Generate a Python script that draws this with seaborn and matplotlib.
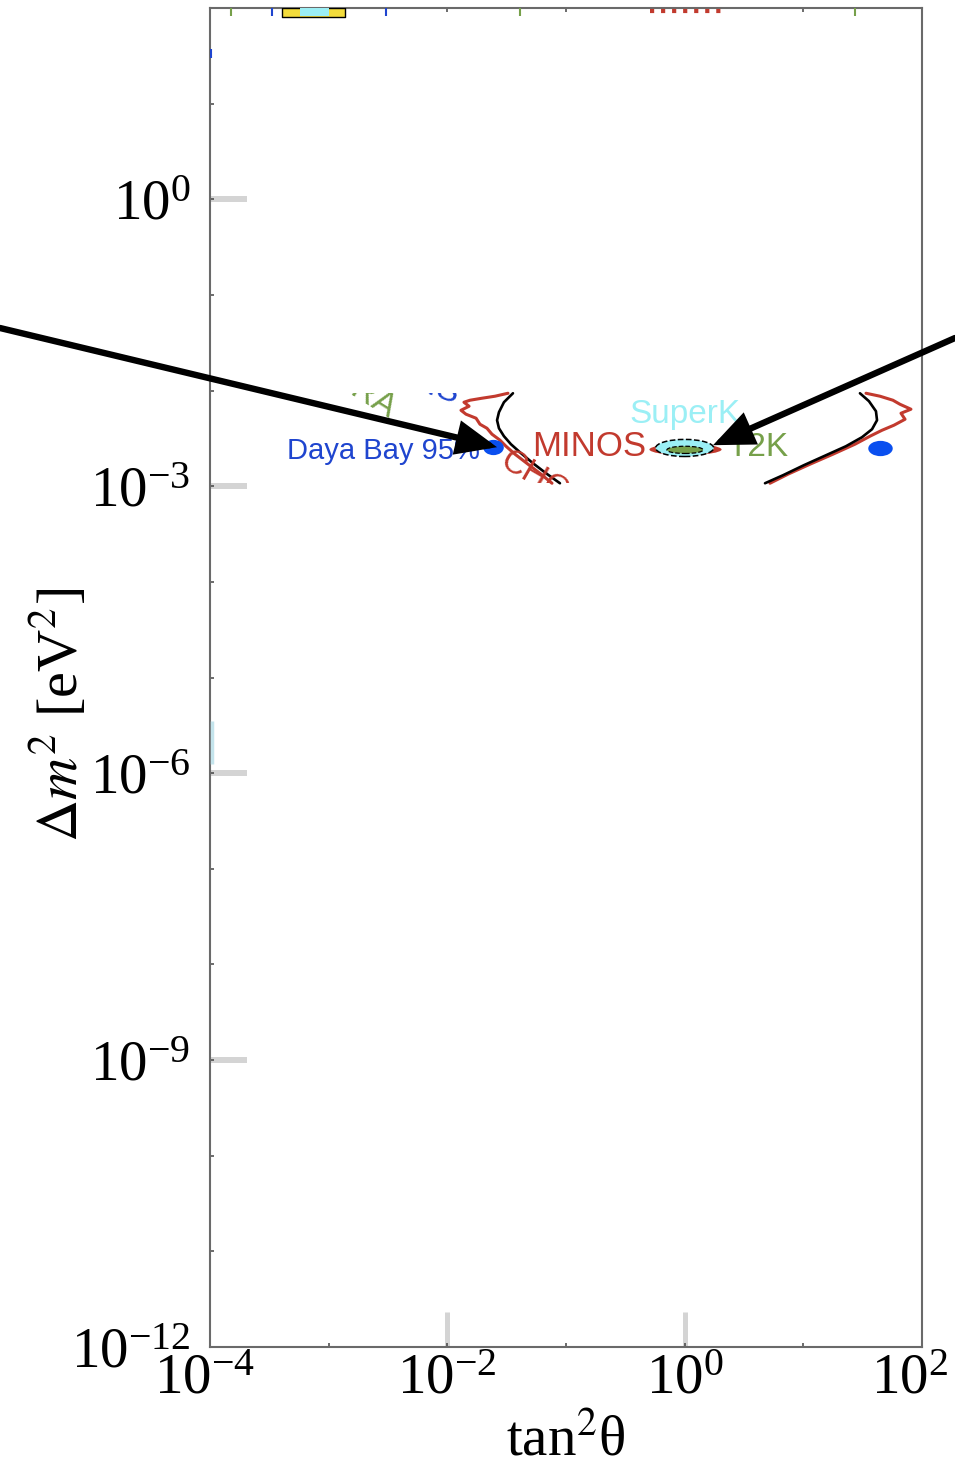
import numpy as np
import matplotlib
matplotlib.use("Agg")
import matplotlib.pyplot as plt
import seaborn as sns
from matplotlib.path import Path
from matplotlib.transforms import Affine2D, Bbox, TransformedBbox, ScaledTranslation
from matplotlib.ticker import FixedLocator, NullFormatter, LogFormatterSciNotation


# ============================================================
# DATA  (log10 of tan^2(theta) on x, log10 of dm^2 [eV^2] on y)
# ============================================================

x_lim = (-4, 2)
y_lim = (-12, 2)
x_major = [-4, -2, 0, 2]
y_major = [-12, -9, -6, -3, 0]
x_decades = list(range(-4, 3))
y_decades = list(range(-12, 3))

# strip of the zoomed-in plot that is pasted over the big one
strip_y = (-2.97, -2.03)

left_black_x = [-1.447, -1.523, -1.565, -1.581, -1.565, -1.523, -1.464, -1.379, -1.278, -1.169, -1.051]
left_black_y = [-2.028, -2.122, -2.226, -2.310, -2.394, -2.477, -2.561, -2.655, -2.760, -2.864, -2.969]

left_red_x = [-1.489, -1.598, -1.708, -1.809, -1.860, -1.817, -1.885, -1.843, -1.758, -1.725,
              -1.666, -1.624, -1.556, -1.506, -1.430, -1.320, -1.211, -1.118]
left_red_y = [-2.028, -2.059, -2.080, -2.101, -2.122, -2.164, -2.206, -2.247, -2.289, -2.352,
              -2.394, -2.456, -2.519, -2.582, -2.665, -2.770, -2.874, -2.969]

right_black_x = [1.477, 1.553, 1.612, 1.621, 1.579, 1.494, 1.359, 1.191, 1.005, 0.829, 0.677]
right_black_y = [-2.028, -2.111, -2.216, -2.310, -2.404, -2.488, -2.582, -2.676, -2.780, -2.885, -2.969]

right_red_x = [1.528, 1.646, 1.755, 1.814, 1.907, 1.823, 1.857, 1.764, 1.663, 1.562,
               1.435, 1.250, 1.056, 0.871, 0.719]
right_red_y = [-2.028, -2.059, -2.101, -2.143, -2.195, -2.237, -2.300, -2.362, -2.415, -2.477,
               -2.561, -2.665, -2.770, -2.874, -2.969]

# Daya Bay 95% blobs
dayabay_x = [-1.615, 1.646]
dayabay_y = [-2.592, -2.603]

# MINOS / SuperK / T2K allowed regions (centres)
minos_x, minos_y = 0.003, -2.613
superk_x, superk_y = 0.0, -2.600
t2k_x, t2k_y = 0.003, -2.620

# arrow tips
arrow_tip_x = [-1.581, 0.239]
arrow_tip_y = [-2.592, -2.571]

# bits of the big plot peeking in at the top edge
yellow_x = [-3.39, -2.86]
yellow_y = [1.91, 2.0]
cyan_box_x = [-3.24, -3.00]
red_dots_x = [-0.29, 0.34]
red_dots_y = 1.965
edge_marks_x = [-3.82, -3.48, -2.52, -1.39, 1.435]
left_strip_y = [-5.90, -5.45]

green = "#76a04a"
blue_txt = "#1f45cf"
blue_blob = "#0a4fef"
red = "#c23a2e"
cyan = "#9beff5"


def p10(v):
    return 10 ** np.asarray(v, dtype=float)


def ellipse_marker(aspect):
    return Path.unit_circle().transformed(Affine2D().scale(aspect, 1))


# ============================================================
# FIGURE
# ============================================================

sns.set_style("ticks")
plt.rcParams["font.family"] = ["Liberation Serif", "DejaVu Serif"]
plt.rcParams["mathtext.fontset"] = "stix"

fig = plt.figure(figsize=(9.55, 14.7), dpi=100)
ax = fig.add_axes([210 / 955, 1 - 1347 / 1470, 712 / 955, 1339 / 1470])
ax.set_xscale("log")
ax.set_yscale("log")
ax.set_xlim(p10(x_lim[0]), p10(x_lim[1]))
ax.set_ylim(p10(y_lim[0]), p10(y_lim[1]))

# ---- contours of the pasted strip
sns.lineplot(x=p10(left_red_x), y=p10(left_red_y), sort=False, estimator=None,
             color=red, lw=2.2, ax=ax)
sns.lineplot(x=p10(right_red_x), y=p10(right_red_y), sort=False, estimator=None,
             color=red, lw=2.2, ax=ax)
sns.lineplot(x=p10(left_black_x), y=p10(left_black_y), sort=False, estimator=None,
             color="black", lw=1.9, ax=ax)
sns.lineplot(x=p10(right_black_x), y=p10(right_black_y), sort=False, estimator=None,
             color="black", lw=1.9, ax=ax)

# ---- Daya Bay blobs
sns.scatterplot(x=p10(dayabay_x[:1]), y=p10(dayabay_y[:1]), marker=ellipse_marker(1.35),
                s=220, color=blue_blob, edgecolor=blue_blob, linewidth=0, ax=ax, zorder=4)
sns.scatterplot(x=p10(dayabay_x[1:]), y=p10(dayabay_y[1:]), marker=ellipse_marker(1.6),
                s=310, color=blue_blob, edgecolor=blue_blob, linewidth=0, ax=ax, zorder=4)

# ---- MINOS (red), SuperK (cyan, dashed) and T2K (green) regions
sns.scatterplot(x=[p10(minos_x)], y=[p10(minos_y)], marker=ellipse_marker(6.5),
                s=2700, color=red, edgecolor=red, linewidth=0, ax=ax, zorder=4)
sns.scatterplot(x=[p10(superk_x)], y=[p10(superk_y)], marker=ellipse_marker(3.4),
                s=1750, color=cyan, edgecolor="black", linewidth=1.1, linestyle="--",
                ax=ax, zorder=5)
sns.scatterplot(x=[p10(t2k_x)], y=[p10(t2k_y)], marker=ellipse_marker(5.0),
                s=680, color=green, edgecolor="black", linewidth=0.9, linestyle="--",
                ax=ax, zorder=6)

# ---- labels of the strip
strip_box = TransformedBbox(Bbox([[p10(x_lim[0]), p10(strip_y[0])],
                                  [p10(x_lim[1]), p10(strip_y[1])]]), ax.transData)
sans = "Liberation Sans"
ax.text(p10(-1.725), p10(-2.634), "Daya Bay 95%", color=blue_txt, fontsize=21,
        family=sans, ha="right", va="center")
ax.text(p10(-1.287), p10(-2.582), "MINOS", color=red, fontsize=25,
        family=sans, ha="left", va="center")
ax.text(p10(0.0), p10(-2.247), "SuperK", color=cyan, fontsize=24,
        family=sans, ha="center", va="center")
ax.text(p10(0.357), p10(-2.592), "T2K", color=green, fontsize=24,
        family=sans, ha="left", va="center")
for txt, x, y, rot, col, ha in [("CHOOZ", -1.531, -2.707, -30, red, "left"),
                                ("OPERA", -2.458, -2.226, -32, green, "right"),
                                ("CDHS", -1.910, -2.059, -20, blue_txt, "right")]:
    t = ax.text(p10(x), p10(y), txt, color=col, fontsize=24, family=sans,
                rotation=rot, rotation_mode="anchor", ha=ha, va="center")
    t.set_clip_box(strip_box)
    t.set_clip_on(True)

# ---- fragments of the big plot at the edges
ax.fill_between(p10(yellow_x), p10(yellow_y[0]), p10(yellow_y[1]),
                facecolor="#f3dc3c", edgecolor="black", lw=1.0, zorder=3)
ax.fill_between(p10(cyan_box_x), p10(yellow_y[0] + 0.01), p10(yellow_y[1]),
                facecolor=cyan, edgecolor="none", zorder=3)
ax.hlines(p10(red_dots_y), p10(red_dots_x[0]), p10(red_dots_x[1]), color=red,
          lw=3, linestyles=":", zorder=3)
ax.vlines(p10(edge_marks_x), p10(1.92), p10(2.0),
          colors=[green, blue_txt, blue_txt, green, green], lw=1.5, zorder=3)
ax.vlines(p10(-3.985), p10(left_strip_y[0]), p10(left_strip_y[1]),
          colors="#c4e4ec", lw=2.5, zorder=3)
ax.vlines(p10(-3.99), p10(1.48), p10(1.57), colors=blue_txt, lw=1.5, zorder=3)

# ---- arrows coming from outside the frame
for tip_x, tip_y, tail in zip(arrow_tip_x, arrow_tip_y, [(0, 1470 - 328), (955, 1470 - 338)]):
    ax.annotate("", xy=(p10(tip_x), p10(tip_y)), xycoords="data",
                xytext=tail, textcoords="figure pixels", annotation_clip=False,
                arrowprops=dict(arrowstyle="-|>,head_length=0.8,head_width=0.34",
                                mutation_scale=27, lw=4.6, color="black",
                                shrinkA=0, shrinkB=0, joinstyle="miter"),
                zorder=8)

# ============================================================
# AXES STYLE
# ============================================================

for side in ["left", "right", "top", "bottom"]:
    ax.spines[side].set_color("#6a6a6a")
    ax.spines[side].set_linewidth(1.5)

ax.xaxis.set_major_locator(FixedLocator(p10(x_major)))
ax.yaxis.set_major_locator(FixedLocator(p10(y_major)))
ax.xaxis.set_minor_locator(FixedLocator(p10(x_decades)))
ax.yaxis.set_minor_locator(FixedLocator(p10(y_decades)))
ax.xaxis.set_major_formatter(LogFormatterSciNotation())
ax.yaxis.set_major_formatter(LogFormatterSciNotation())
ax.xaxis.set_minor_formatter(NullFormatter())
ax.yaxis.set_minor_formatter(NullFormatter())
ax.xaxis.remove_overlapping_locs = False
ax.yaxis.remove_overlapping_locs = False

ax.tick_params(axis="y", which="major", direction="in", length=26.6, width=4.3,
               color="#d4d4d4", labelsize=41, pad=14, labelcolor="black")
ax.tick_params(axis="x", which="major", direction="in", length=25, width=3.6,
               color="#d4d4d4", labelsize=41, pad=5, labelcolor="black")
ax.tick_params(which="minor", direction="in", length=2.8, width=1.1, color="#444444",
               top=True, bottom=True, left=True, right=False)

for tick, v in zip(ax.yaxis.get_major_ticks(), y_major):
    if v == y_lim[0]:
        tick.tick1line.set_visible(False)
for tick, v in zip(ax.xaxis.get_major_ticks(), x_major):
    if v in x_lim:
        tick.tick1line.set_visible(False)
    # the outer labels sit a little to the left of their ticks
    shift = {-4: -5, 2: -12}.get(v, 0)
    if shift:
        tick.label1.set_transform(tick.label1.get_transform()
                                  + ScaledTranslation(shift / 100, 0, fig.dpi_scale_trans))

ax.set_xlabel("tan$^2$θ", fontsize=41, color="black")
ax.set_ylabel(r"$\Delta m^2$ [eV$^2$]", fontsize=42, color="black")
ax.xaxis.set_label_coords(0.5, -0.051)
ax.yaxis.set_label_coords(-0.168, 0.472)

fig.savefig("out.png", dpi=100)
